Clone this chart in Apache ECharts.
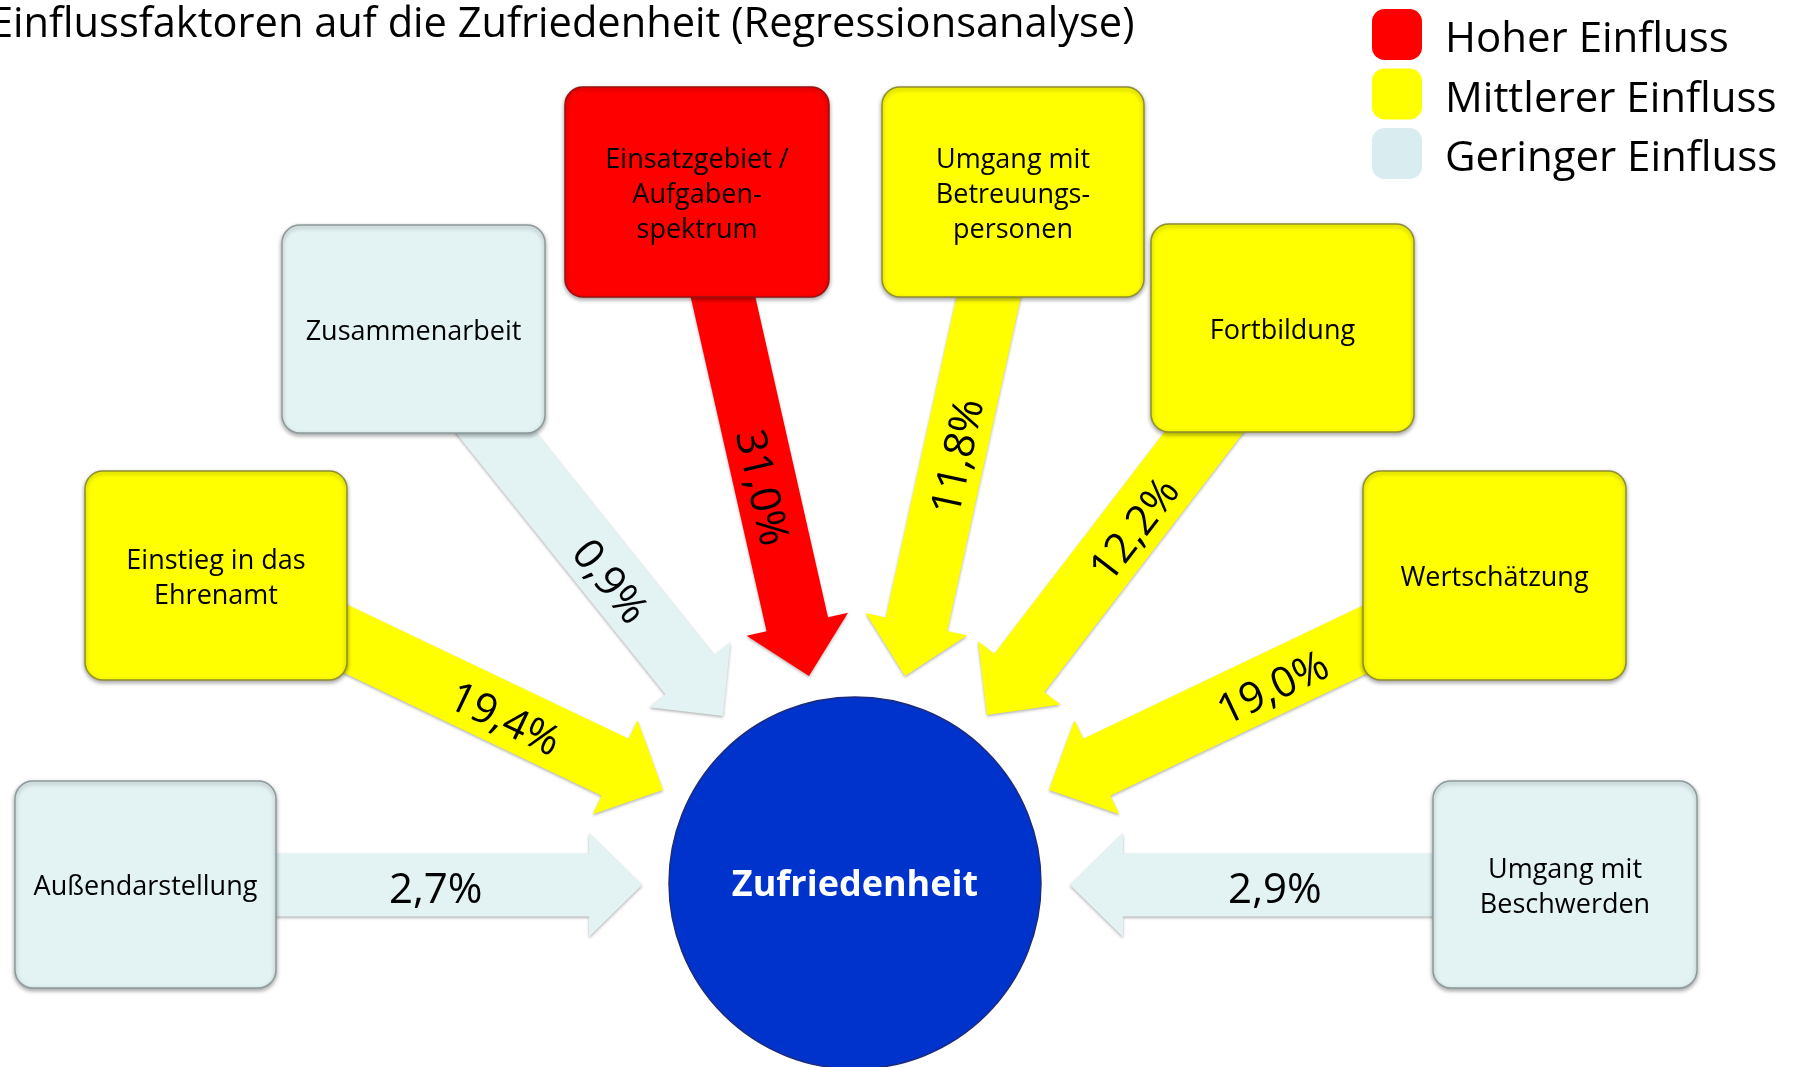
<!DOCTYPE html>
<html>
<head>
<meta charset="utf-8">
<script src="https://cdn.jsdelivr.net/npm/echarts@6/dist/echarts.min.js"></script>
<style>
  html, body { margin: 0; padding: 0; background: #fff; }
  #main { width: 1798px; height: 1067px; }
</style>
</head>
<body>
<div id="main"></div>
<script>
// data
const titleText = 'Einflussfaktoren auf die Zufriedenheit (Regressionsanalyse)';
const centerLabel = 'Zufriedenheit';
const levelNames = ['Hoher Einfluss', 'Mittlerer Einfluss', 'Geringer Einfluss'];
const factorNames = [
  'Außendarstellung',
  'Einstieg in das\nEhrenamt',
  'Zusammenarbeit',
  'Einsatzgebiet /\nAufgaben-\nspektrum',
  'Umgang mit\nBetreuungs-\npersonen',
  'Fortbildung',
  'Wertschätzung',
  'Umgang mit\nBeschwerden'
];
const factorValues = [2.7, 19.4, 0.9, 31.0, 11.8, 12.2, 19.0, 2.9];
const factorLevels = [2, 1, 2, 0, 1, 1, 1, 2]; // index into levelNames

// layout (pixel space of the hidden axes): box [x, y, w, h], arrow [sx, sy, tx, ty, label pos]
const boxLayout = [
  [15, 781, 261, 207],
  [85, 471, 262, 209],
  [282, 225, 263, 208],
  [565, 87, 264, 210],
  [882, 87, 262, 210],
  [1151, 224, 263, 208],
  [1363, 471, 263, 209],
  [1433, 781, 264, 207]
];
const arrowLayout = [
  [145, 885, 642, 885, 0.585],
  [216, 577, 663, 790, 0.65],
  [413, 329, 723, 716, 0.646],
  [699, 191, 809, 676, 0.61],
  [1012, 191, 905, 676, 0.546],
  [1284, 328, 987, 715, 0.514],
  [1496, 577, 1049, 790, 0.503],
  [1565, 885, 1070, 885, 0.586]
];
const centerLayout = [855, 883, 186];

// styles
const FONT = '"Open Sans", "Noto Sans", sans-serif';
const fillColors = ['#FF0000', '#FFFF00', '#E3F2F3'];
const legendColors = ['#FF0000', '#FFFF00', '#D9ECEF'];
const strokeColors = ['#9a1010', '#8f8f30', '#8d9a9c'];
const SHAFT = 63, HEAD_W = 104, HEAD_L = 53;
const LABEL_DROP = 6;

function fmtPct(v) {
  return v.toFixed(1).replace('.', ',') + '%';
}

function arrowPoints(s, t) {
  const dx = t[0] - s[0], dy = t[1] - s[1];
  const len = Math.sqrt(dx * dx + dy * dy);
  const ux = dx / len, uy = dy / len;
  const nx = -uy, ny = ux;
  const bx = t[0] - ux * HEAD_L, by = t[1] - uy * HEAD_L;
  const w = SHAFT / 2, h = HEAD_W / 2;
  return [
    [s[0] + nx * w, s[1] + ny * w],
    [bx + nx * w, by + ny * w],
    [bx + nx * h, by + ny * h],
    [t[0], t[1]],
    [bx - nx * h, by - ny * h],
    [bx - nx * w, by - ny * w],
    [s[0] - nx * w, s[1] - ny * w]
  ];
}

function renderFactor(params, api) {
  const i = api.value(2);
  const lv = factorLevels[i];
  const b = boxLayout[i];
  const a = arrowLayout[i];
  const p0 = api.coord([b[0], b[1]]);
  const p1 = api.coord([b[0] + b[2], b[1] + b[3]]);
  const s = api.coord([a[0], a[1]]);
  const t = api.coord([a[2], a[3]]);
  const dx = t[0] - s[0], dy = t[1] - s[1];
  const rot = dx >= 0 ? -Math.atan2(dy, dx) : -Math.atan2(-dy, -dx);
  // nudge the label toward the glyph bottoms so digits sit visually centred
  const lx = s[0] + dx * a[4] + Math.sin(rot) * LABEL_DROP;
  const ly = s[1] + dy * a[4] + Math.cos(rot) * LABEL_DROP;
  return {
    type: 'group',
    children: [
      {
        type: 'polygon',
        shape: { points: arrowPoints(s, t) },
        style: {
          fill: fillColors[lv],
          shadowBlur: 3, shadowOffsetY: 1.5,
          shadowColor: 'rgba(0,0,0,0.3)'
        }
      },
      {
        type: 'rect',
        shape: { x: p0[0], y: p0[1], width: p1[0] - p0[0], height: p1[1] - p0[1], r: 18 },
        style: {
          fill: fillColors[lv], stroke: strokeColors[lv], lineWidth: 1.5,
          shadowBlur: 4, shadowOffsetY: 2, shadowColor: 'rgba(0,0,0,0.35)'
        }
      },
      {
        type: 'text',
        x: (p0[0] + p1[0]) / 2,
        y: (p0[1] + p1[1]) / 2 + 3,
        style: {
          text: factorNames[i], fill: '#000', font: '27px ' + FONT,
          align: 'center', verticalAlign: 'middle', lineHeight: 35
        }
      },
      {
        type: 'text',
        x: lx, y: ly, rotation: rot,
        style: {
          text: fmtPct(factorValues[i]), fill: '#000', font: '42px ' + FONT,
          align: 'center', verticalAlign: 'middle'
        }
      }
    ]
  };
}

function renderCenter(params, api) {
  const c = api.coord([api.value(0), api.value(1)]);
  const r = api.size([centerLayout[2], 0])[0];
  return {
    type: 'group',
    children: [
      {
        type: 'circle',
        shape: { cx: c[0], cy: c[1], r: r },
        style: { fill: '#0033CC', stroke: '#1c2b7a', lineWidth: 1.5 }
      },
      {
        type: 'text',
        x: c[0], y: c[1] + 3,
        style: {
          text: centerLabel, fill: '#fff', font: 'bold 36px ' + FONT,
          align: 'center', verticalAlign: 'middle'
        }
      }
    ]
  };
}

const chart = echarts.init(document.getElementById('main'));

const series = levelNames.map(function (name, li) {
  const items = [];
  factorNames.forEach(function (n, i) {
    if (factorLevels[i] === li) {
      items.push([boxLayout[i][0] + boxLayout[i][2] / 2, boxLayout[i][1] + boxLayout[i][3] / 2, i]);
    }
  });
  return {
    type: 'custom',
    name: name,
    coordinateSystem: 'cartesian2d',
    clip: false,
    itemStyle: { color: legendColors[li] },
    data: items,
    renderItem: renderFactor
  };
});
series.push({
  type: 'custom',
  name: centerLabel,
  coordinateSystem: 'cartesian2d',
  clip: false,
  data: [[centerLayout[0], centerLayout[1]]],
  renderItem: renderCenter
});

chart.setOption({
  animation: false,
  backgroundColor: '#fff',
  title: {
    text: titleText,
    left: -10,
    top: 4,
    padding: 0,
    textStyle: { fontFamily: FONT, fontSize: 41.6, fontWeight: 'normal', color: '#000' }
  },
  legend: {
    orient: 'vertical',
    left: 1372,
    top: 9,
    padding: 0,
    itemWidth: 50,
    itemHeight: 51,
    itemGap: 7,
    icon: 'roundRect',
    selectedMode: false,
    data: levelNames.map(function (n, li) {
      return { name: n, itemStyle: { color: legendColors[li] } };
    }),
    // spacer line above the name pushes it a few px below the swatch centre
    formatter: function (name) {
      return '{s| }\n{a|' + name + '}';
    },
    textStyle: {
      padding: [0, 0, 0, 18],
      rich: {
        s: { fontSize: 1, lineHeight: 12 },
        a: { fontFamily: FONT, fontSize: 42, lineHeight: 38, color: '#000' }
      }
    }
  },
  grid: { left: 0, right: 0, top: 0, bottom: 0 },
  xAxis: { type: 'value', min: 0, max: 1798, show: false },
  yAxis: { type: 'value', min: 0, max: 1067, inverse: true, show: false },
  series: series
});
</script>
</body>
</html>
